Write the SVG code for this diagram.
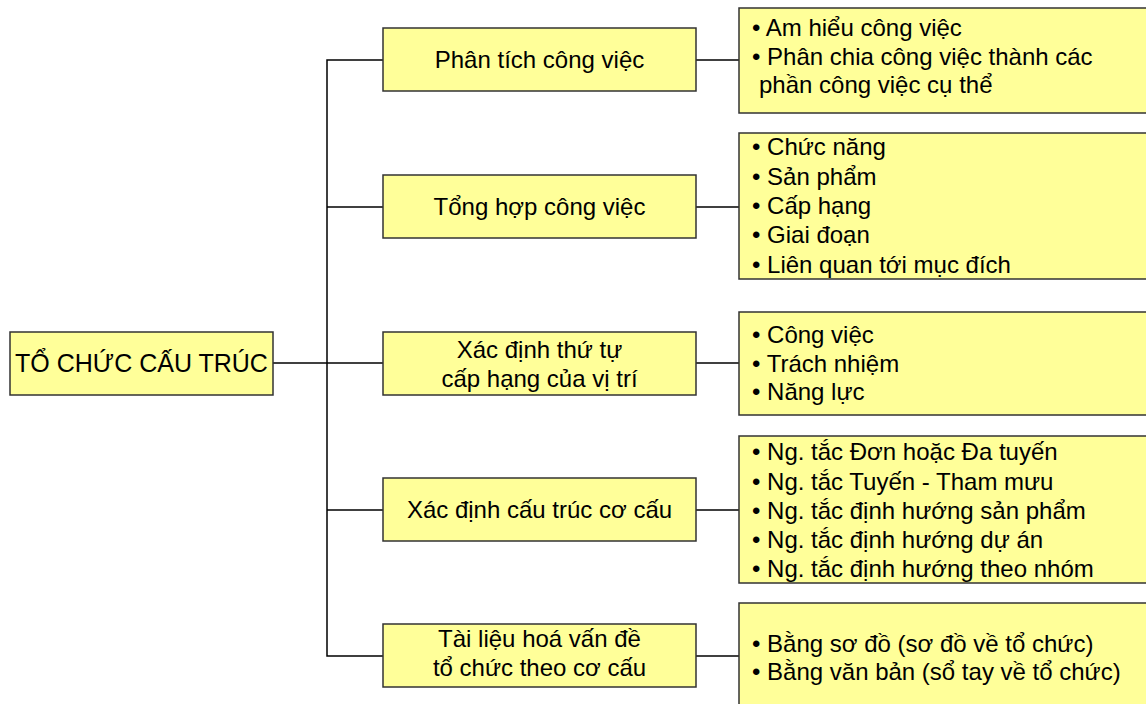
<svg xmlns="http://www.w3.org/2000/svg" width="1146" height="704" viewBox="0 0 1146 704">
<style>
.box{fill:#FFFF99;stroke:#333333;stroke-width:1.5}
.t{font-family:"Liberation Sans",Arial,sans-serif;font-size:24px;fill:#000000}
.c{text-anchor:middle}
.ln{stroke:#000000;stroke-width:1.5;fill:none}
</style>
<rect width="1146" height="704" fill="#FFFFFF"/>
<g id="connectors">
<line class="ln" x1="273" y1="363" x2="383" y2="363"/>
<polyline class="ln" points="383,60 327,60 327,656 383,656"/>
<line class="ln" x1="327" y1="207" x2="383" y2="207"/>
<line class="ln" x1="327" y1="510" x2="383" y2="510"/>
<line class="ln" x1="696" y1="60" x2="739" y2="60"/>
<line class="ln" x1="696" y1="207" x2="739" y2="207"/>
<line class="ln" x1="696" y1="363" x2="739" y2="363"/>
<line class="ln" x1="696" y1="510" x2="739" y2="510"/>
<line class="ln" x1="696" y1="656" x2="739" y2="656"/>
</g>
<g id="root">
<rect class="box" x="10" y="332" width="263" height="63"/>
<text class="t c" x="141.5" y="372" style="font-size:25px">TỔ CHỨC CẤU TRÚC</text>
</g>
<g id="n1">
<rect class="box" x="383" y="28" width="313" height="63"/>
<text class="t c" x="539.5" y="68">Phân tích công việc</text>
</g>
<g id="n2">
<rect class="box" x="383" y="175" width="313" height="63"/>
<text class="t c" x="539.5" y="215">Tổng hợp công việc</text>
</g>
<g id="n3">
<rect class="box" x="383" y="332" width="313" height="63"/>
<text class="t c" x="539.5" y="358">Xác định thứ tự</text>
<text class="t c" x="539.5" y="387">cấp hạng của vị trí</text>
</g>
<g id="n4">
<rect class="box" x="383" y="478" width="313" height="63"/>
<text class="t c" x="539.5" y="518">Xác định cấu trúc cơ cấu</text>
</g>
<g id="n5">
<rect class="box" x="383" y="624" width="313" height="63"/>
<text class="t c" x="539.5" y="647">Tài liệu hoá vấn đề</text>
<text class="t c" x="539.5" y="676">tổ chức theo cơ cấu</text>
</g>
<g id="d1">
<rect class="box" x="739" y="8" width="420" height="105"/>
<text class="t" x="752" y="36">• Am hiểu công việc</text>
<text class="t" x="752" y="65">• Phân chia công việc thành các</text>
<text class="t" x="759" y="93">phần công việc cụ thể</text>
</g>
<g id="d2">
<rect class="box" x="739" y="133" width="420" height="146"/>
<text class="t" x="752" y="155">• Chức năng</text>
<text class="t" x="752" y="185">• Sản phẩm</text>
<text class="t" x="752" y="214">• Cấp hạng</text>
<text class="t" x="752" y="243">• Giai đoạn</text>
<text class="t" x="752" y="273">• Liên quan tới mục đích</text>
</g>
<g id="d3">
<rect class="box" x="739" y="312" width="420" height="103"/>
<text class="t" x="752" y="343">• Công việc</text>
<text class="t" x="752" y="372">• Trách nhiệm</text>
<text class="t" x="752" y="400">• Năng lực</text>
</g>
<g id="d4">
<rect class="box" x="739" y="436" width="420" height="147"/>
<text class="t" x="752" y="460">• Ng. tắc Đơn hoặc Đa tuyến</text>
<text class="t" x="752" y="490">• Ng. tắc Tuyến - Tham mưu</text>
<text class="t" x="752" y="519">• Ng. tắc định hướng sản phẩm</text>
<text class="t" x="752" y="548">• Ng. tắc định hướng dự án</text>
<text class="t" x="752" y="577">• Ng. tắc định hướng theo nhóm</text>
</g>
<g id="d5">
<rect class="box" x="739" y="603" width="420" height="120"/>
<text class="t" x="752" y="652">• Bằng sơ đồ (sơ đồ về tổ chức)</text>
<text class="t" x="752" y="680">• Bằng văn bản (sổ tay về tổ chức)</text>
</g>
</svg>
